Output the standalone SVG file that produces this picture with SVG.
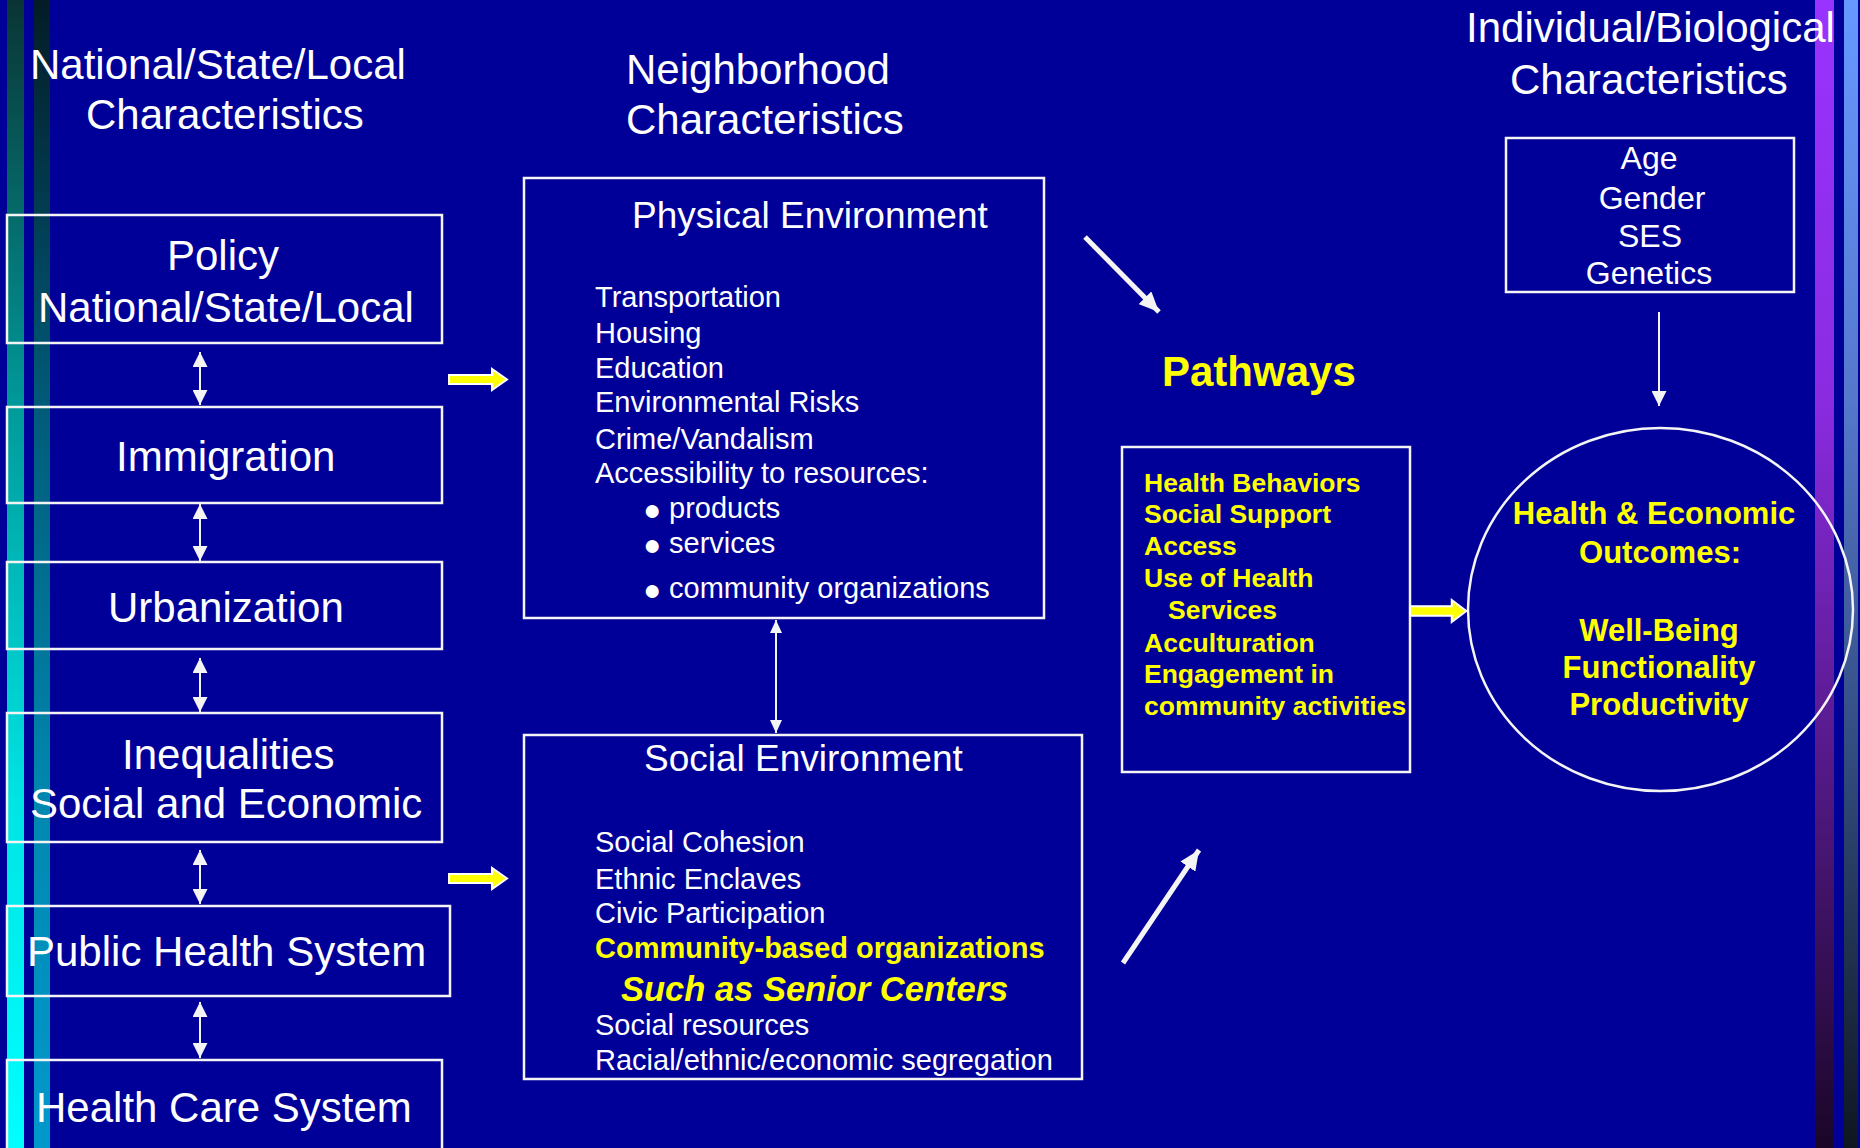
<svg xmlns="http://www.w3.org/2000/svg" width="1860" height="1148" viewBox="0 0 1860 1148">
  <defs>
    <!-- decorative side bars -->
    <linearGradient id="barCyan" x1="0" y1="0" x2="0" y2="1">
      <stop offset="0" stop-color="#0a3434"/>
      <stop offset="0.35" stop-color="#009999"/>
      <stop offset="0.7" stop-color="#00e4e4"/>
      <stop offset="1" stop-color="#00ffff"/>
    </linearGradient>
    <linearGradient id="barTeal" x1="0" y1="0" x2="0" y2="1">
      <stop offset="0" stop-color="#031c26"/>
      <stop offset="0.35" stop-color="#005a78"/>
      <stop offset="0.7" stop-color="#0088b0"/>
      <stop offset="1" stop-color="#0099cc"/>
    </linearGradient>
    <linearGradient id="barViolet" x1="0" y1="0" x2="0" y2="1">
      <stop offset="0" stop-color="#9933ff"/>
      <stop offset="0.35" stop-color="#8a2be0"/>
      <stop offset="0.65" stop-color="#571a8c"/>
      <stop offset="1" stop-color="#1a0628"/>
    </linearGradient>
    <linearGradient id="barSky" x1="0" y1="0" x2="0" y2="1">
      <stop offset="0" stop-color="#6699ff"/>
      <stop offset="0.35" stop-color="#5577cc"/>
      <stop offset="0.65" stop-color="#334d80"/>
      <stop offset="1" stop-color="#0e1620"/>
    </linearGradient>

    <!-- arrowheads -->
    <marker id="head" viewBox="0 0 15 15" refX="15" refY="7.5" markerWidth="15" markerHeight="15"
            markerUnits="userSpaceOnUse" orient="auto-start-reverse">
      <path d="M0,0 L15,7.5 L0,15 Z" fill="#f4f4f4"/>
    </marker>
    <marker id="headSmall" viewBox="0 0 13 12" refX="13" refY="6" markerWidth="13" markerHeight="12"
            markerUnits="userSpaceOnUse" orient="auto-start-reverse">
      <path d="M0,0 L13,6 L0,12 Z" fill="#f4f4f4"/>
    </marker>
    <marker id="headBig" viewBox="0 0 20 18" refX="20" refY="9" markerWidth="20" markerHeight="18"
            markerUnits="userSpaceOnUse" orient="auto">
      <path d="M0,0 L20,9 L0,18 Z" fill="#f4f4f4"/>
    </marker>

    <!-- yellow block arrow, tail at origin pointing right -->
    <path id="blockArrow" d="M0,-4.5 H43 V-10.5 L58,0 L43,10.5 V4.5 H0 Z"/>
  </defs>

  <style>
    .box { fill: none; stroke: #f4f4f4; stroke-width: 2.5; }
    .txt { font-family: "Liberation Sans", Arial, sans-serif; fill: #ffffff; }
    .big { font-size: 42px; }
    .hdr { font-size: 37px; }
    .li { font-size: 29px; }
    .dot { font-size: 30px; }
    .ybold { font-family: "Liberation Sans", Arial, sans-serif; font-weight: bold; fill: #ffff00; }
    .link { stroke: #f4f4f4; stroke-width: 2; fill: none; }
    .thick { stroke: #f4f4f4; stroke-width: 5; fill: none; }
    .block { fill: #ffff00; stroke: #ffffff; stroke-width: 2; stroke-linejoin: miter; }
    .mid { text-anchor: middle; }
  </style>

  <!-- background -->
  <rect x="0" y="0" width="1860" height="1148" fill="#000099"/>
  <rect x="7" y="0" width="17" height="1148" fill="url(#barCyan)"/>
  <rect x="34" y="0" width="16" height="1148" fill="url(#barTeal)"/>
  <rect x="1815" y="0" width="19" height="1148" fill="url(#barViolet)"/>
  <rect x="1844" y="0" width="14" height="1148" fill="url(#barSky)"/>

  <!-- column headings -->
  <g id="heading-national" class="txt big">
    <text x="30" y="79">National/State/Local</text>
    <text x="86" y="129">Characteristics</text>
  </g>
  <g id="heading-neighborhood" class="txt big">
    <text x="626" y="84">Neighborhood</text>
    <text x="626" y="134">Characteristics</text>
  </g>
  <g id="heading-individual" class="txt big">
    <text x="1466" y="42">Individual/Biological</text>
    <text x="1510" y="94">Characteristics</text>
  </g>
  <g id="heading-pathways">
    <text class="ybold" x="1162" y="386" font-size="42">Pathways</text>
  </g>

  <!-- national / state / local column -->
  <g id="policy">
    <rect class="box" x="7" y="215" width="435" height="128"/>
    <text class="txt big" x="167" y="270">Policy</text>
    <text class="txt big" x="38" y="322">National/State/Local</text>
  </g>
  <g id="immigration">
    <rect class="box" x="7" y="407" width="435" height="96"/>
    <text class="txt big" x="116" y="471">Immigration</text>
  </g>
  <g id="urbanization">
    <rect class="box" x="7" y="562" width="435" height="87"/>
    <text class="txt big" x="108" y="622">Urbanization</text>
  </g>
  <g id="inequalities">
    <rect class="box" x="7" y="713" width="435" height="129"/>
    <text class="txt big" x="122" y="769">Inequalities</text>
    <text class="txt big" x="30" y="818">Social and Economic</text>
  </g>
  <g id="public-health">
    <rect class="box" x="7" y="906" width="443" height="90"/>
    <text class="txt big" x="27" y="966">Public Health System</text>
  </g>
  <g id="health-care">
    <rect class="box" x="7" y="1060" width="435" height="100"/>
    <text class="txt big" x="36" y="1122">Health Care System</text>
  </g>

  <!-- neighborhood column -->
  <g id="physical-environment">
    <rect class="box" x="524" y="178" width="520" height="440"/>
    <text class="txt hdr" x="632" y="228">Physical Environment</text>
    <g class="txt li">
      <text x="595" y="307">Transportation</text>
      <text x="595" y="343">Housing</text>
      <text x="595" y="378">Education</text>
      <text x="595" y="412">Environmental Risks</text>
      <text x="595" y="449">Crime/Vandalism</text>
      <text x="595" y="483">Accessibility to resources:</text>
      <text x="669" y="518">products</text>
      <text x="669" y="553">services</text>
      <text x="669" y="598">community organizations</text>
    </g>
    <g class="txt dot">
      <text x="643" y="520">●</text>
      <text x="643" y="555">●</text>
      <text x="643" y="600">●</text>
    </g>
  </g>
  <g id="social-environment">
    <rect class="box" x="524" y="735" width="558" height="344"/>
    <text class="txt hdr" x="644" y="771">Social Environment</text>
    <g class="txt li">
      <text x="595" y="852">Social Cohesion</text>
      <text x="595" y="889">Ethnic Enclaves</text>
      <text x="595" y="923">Civic Participation</text>
      <text x="595" y="1035">Social resources</text>
      <text x="595" y="1070">Racial/ethnic/economic segregation</text>
    </g>
    <text class="ybold" x="595" y="958" font-size="29">Community-based organizations</text>
    <text class="ybold" x="621" y="1001" font-size="34.5" font-style="italic">Such as Senior Centers</text>
  </g>

  <!-- pathways -->
  <g id="pathways">
    <rect class="box" x="1122" y="447" width="288" height="325"/>
    <g class="ybold" font-size="26.5">
      <text x="1144" y="492">Health Behaviors</text>
      <text x="1144" y="523">Social Support</text>
      <text x="1144" y="555">Access</text>
      <text x="1144" y="587">Use of Health</text>
      <text x="1168" y="619">Services</text>
      <text x="1144" y="652">Acculturation</text>
      <text x="1144" y="683">Engagement in</text>
      <text x="1144" y="715">community activities</text>
    </g>
  </g>

  <!-- individual / biological -->
  <g id="individual">
    <rect class="box" x="1506" y="138" width="288" height="154"/>
    <g class="txt mid" font-size="32">
      <text x="1649" y="169">Age</text>
      <text x="1652" y="209">Gender</text>
      <text x="1650" y="247">SES</text>
      <text x="1649" y="284">Genetics</text>
    </g>
  </g>

  <!-- outcomes -->
  <g id="outcomes">
    <ellipse class="box" cx="1660.5" cy="609.5" rx="192.5" ry="181.5"/>
    <g class="ybold mid" font-size="31">
      <text x="1654" y="524">Health &amp; Economic</text>
      <text x="1660" y="563">Outcomes:</text>
      <text x="1659" y="641">Well-Being</text>
      <text x="1659" y="678">Functionality</text>
      <text x="1659" y="715">Productivity</text>
    </g>
  </g>

  <!-- connectors -->
  <g id="connectors">
    <line class="link" x1="200" y1="352" x2="200" y2="405" marker-start="url(#head)" marker-end="url(#head)"/>
    <line class="link" x1="200" y1="504" x2="200" y2="561" marker-start="url(#head)" marker-end="url(#head)"/>
    <line class="link" x1="200" y1="658" x2="200" y2="712" marker-start="url(#head)" marker-end="url(#head)"/>
    <line class="link" x1="200" y1="850" x2="200" y2="904" marker-start="url(#head)" marker-end="url(#head)"/>
    <line class="link" x1="200" y1="1002" x2="200" y2="1058" marker-start="url(#head)" marker-end="url(#head)"/>

    <line class="link" x1="776" y1="620" x2="776" y2="733" marker-start="url(#headSmall)" marker-end="url(#headSmall)"/>
    <line class="link" x1="1659" y1="312" x2="1659" y2="406" marker-end="url(#head)"/>

    <line class="thick" x1="1085" y1="237" x2="1159" y2="312" marker-end="url(#headBig)"/>
    <line class="thick" x1="1123" y1="963" x2="1199" y2="850" marker-end="url(#headBig)"/>

    <use href="#blockArrow" class="block" x="449" y="379.5"/>
    <use href="#blockArrow" class="block" x="449" y="878.5"/>
    <use href="#blockArrow" class="block" x="1410" y="611" transform="translate(1410 611) scale(0.97 1.05) translate(-1410 -611)"/>
  </g>
</svg>
